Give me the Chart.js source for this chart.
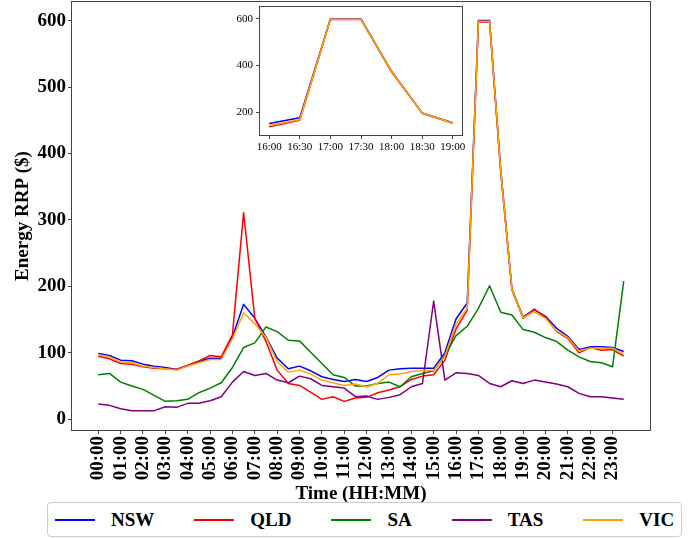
<!DOCTYPE html>
<html>
<head>
<meta charset="utf-8">
<script src="https://cdn.jsdelivr.net/npm/chart.js@4.4.1/dist/chart.umd.min.js"></script>
<style>
  body { margin: 0; background: #fff; }
  #wrap { position: relative; width: 691px; height: 538px; background: #fff; }
  #mainChart { position: absolute; left: 0; top: 0; }
  #insetChart { position: absolute; left: 225px; top: 0; }
  #legend {
    position: absolute; left: 47px; top: 502px; width: 635px; height: 35px;
    box-sizing: border-box; border: 1px solid #cccccc; border-radius: 4px;
    background: #fff; display: flex; align-items: center; padding-left: 7px;
    font: bold 19px "Liberation Serif", "Times New Roman", serif; color: #000;
  }
  .item { display: flex; align-items: center; margin-right: 40px; }
  .item:last-child { margin-right: 0; }
  .swatch { display: inline-block; width: 40px; height: 2px; margin-right: 16px; }
</style>
</head>
<body>
<div id="wrap">
  <canvas id="mainChart" width="691" height="505"></canvas>
  <canvas id="insetChart" width="245" height="160"></canvas>
  <div id="legend"></div>
</div>
<script>
// Half-hourly time slots
const times = [
  "00:00","00:30","01:00","01:30","02:00","02:30","03:00","03:30",
  "04:00","04:30","05:00","05:30","06:00","06:30","07:00","07:30",
  "08:00","08:30","09:00","09:30","10:00","10:30","11:00","11:30",
  "12:00","12:30","13:00","13:30","14:00","14:30","15:00","15:30",
  "16:00","16:30","17:00","17:30","18:00","18:30","19:00","19:30",
  "20:00","20:30","21:00","21:30","22:00","22:30","23:00","23:30"
];

// Energy RRP ($) per region
const nsw = [99, 96, 89, 88, 83, 80, 78, 75, 81, 87, 92, 92, 124, 173, 152, 124,
             92, 76, 80, 73, 64, 60, 57, 60, 57, 63, 74, 76, 77, 77, 77, 100,
             151, 175, 600, 600, 375, 196, 154, 165, 155, 137, 125, 105, 109, 109, 108, 102];
const qld = [95, 91, 84, 83, 79, 77, 76, 75, 81, 88, 96, 94, 127, 311, 152, 117,
             74, 54, 51, 41, 30, 34, 27, 32, 33, 40, 44, 49, 60, 65, 67, 89,
             136, 164, 598, 598, 372, 195, 152, 166, 153, 132, 122, 100, 108, 104, 105, 95];
const sa  = [67, 69, 56, 50, 45, 36, 27, 28, 30, 40, 47, 55, 78, 108, 115, 139,
             132, 119, 118, 101, 84, 67, 63, 50, 50, 54, 56, 49, 64, 69, 73, 96,
             126, 140, 167, 201, 161, 157, 135, 131, 123, 117, 104, 94, 87, 85, 79, 208];
const tas = [23, 21, 16, 13, 13, 13, 19, 18, 24, 24, 28, 34, 56, 72, 66, 69,
             59, 55, 65, 61, 51, 49, 47, 34, 35, 30, 33, 37, 49, 54, 178, 59,
             70, 69, 66, 54, 49, 58, 54, 59, 56, 53, 49, 39, 34, 34, 32, 30];
const vic = [97, 94, 86, 85, 80, 78, 76, 74, 80, 85, 90, 90, 121, 160, 144, 123,
             87, 71, 74, 68, 59, 55, 51, 53, 49, 54, 67, 68, 72, 73, 74, 95,
             143, 167, 599, 599, 374, 196, 153, 162, 152, 133, 123, 103, 107, 107, 107, 98];

const regions = ["NSW", "QLD", "SA", "TAS", "VIC"];
const colors = ["#0000ff", "#ff0000", "#008000", "#800080", "#ffa500"];
const series = [nsw, qld, sa, tas, vic];

const yTicks = [0, 100, 200, 300, 400, 500, 600];
const insetTimes = ["16:00", "16:30", "17:00", "17:30", "18:00", "18:30", "19:00"];
const insetRegions = ["NSW", "QLD", "VIC"];
const insetYTicks = [200, 400, 600];

const serif = "'Liberation Serif', 'Times New Roman', serif";
const hourIdx = times.map((t, i) => i).filter(i => times[i].endsWith(":00"));

// Box around the plot area
const framePlugin = {
    id: "frame",
    afterDraw(chart) {
        const { ctx, chartArea: a } = chart;
        ctx.save();
        ctx.strokeStyle = "#444";
        ctx.lineWidth = 1;
        ctx.strokeRect(a.left - 0.5, a.top - 0.5, a.right - a.left + 1, a.bottom - a.top + 1);
        ctx.restore();
    }
};

function makeDatasets(names, offset, count) {
    return names.map(name => {
        const k = regions.indexOf(name);
        const vals = series[k].slice(offset, offset + count);
        return {
            label: name,
            data: vals.map((v, i) => ({ x: i, y: v })),
            borderColor: colors[k],
            backgroundColor: colors[k],
            borderWidth: 1.5,
            pointRadius: 0,
            tension: 0,
            borderJoinStyle: "round",
            order: regions.length - k   // later regions drawn on top
        };
    });
}

// no extra room for half-labels at the axis ends
function fixPad(s) {
    s.paddingTop = 0;
    s.paddingBottom = 0;
    s.paddingLeft = 0;
    s.paddingRight = 0;
}

const tickGrid = { display: true, drawOnChartArea: false, drawTicks: true, tickLength: 4, color: "#444" };

const mainChart = new Chart(document.getElementById("mainChart"), {
    type: "line",
    data: { datasets: makeDatasets(regions, 0, times.length) },
    plugins: [framePlugin],
    options: {
        responsive: false,
        animation: false,
        devicePixelRatio: 1,
        layout: { padding: { left: 12, right: 41, top: 2, bottom: 0 } },
        plugins: { legend: { display: false }, tooltip: { enabled: false } },
        scales: {
            x: {
                type: "linear",
                min: -2.35,
                max: times.length - 1 + 2.35,
                grid: tickGrid,
                border: { display: false },
                afterBuildTicks: s => { s.ticks = hourIdx.map(v => ({ value: v })); },
                afterFit: s => { s.height = 75; fixPad(s); },
                ticks: {
                    autoSkip: false,
                    minRotation: 90,
                    maxRotation: 90,
                    padding: 2,
                    color: "#000",
                    font: { family: serif, size: 19, weight: "bold" },
                    callback: v => times[v]
                },
                title: {
                    display: true,
                    text: "Time (HH:MM)",
                    color: "#000",
                    padding: { top: 0, bottom: 0 },
                    font: { family: serif, size: 19, weight: "bold" }
                }
            },
            y: {
                min: -16.1,
                max: 628,
                grid: tickGrid,
                border: { display: false },
                afterBuildTicks: s => { s.ticks = yTicks.map(v => ({ value: v })); },
                afterFit: s => { s.width = 60; fixPad(s); },
                ticks: {
                    padding: 2,
                    color: "#000",
                    font: { family: serif, size: 19, weight: "bold" }
                },
                title: {
                    display: true,
                    text: "Energy RRP ($)",
                    color: "#000",
                    padding: { top: 0, bottom: 0 },
                    font: { family: serif, size: 19, weight: "bold" }
                }
            }
        }
    }
});

// Zoomed view of the 16:00 - 19:00 spike
const insetStart = times.indexOf(insetTimes[0]);
new Chart(document.getElementById("insetChart"), {
    type: "line",
    data: { datasets: makeDatasets(insetRegions, insetStart, insetTimes.length) },
    plugins: [framePlugin],
    options: {
        responsive: false,
        animation: false,
        devicePixelRatio: 1,
        layout: { padding: { left: 0, right: 8, top: 7, bottom: 0 } },
        plugins: { legend: { display: false }, tooltip: { enabled: false } },
        scales: {
            x: {
                type: "linear",
                min: -0.3,
                max: insetTimes.length - 1 + 0.3,
                grid: tickGrid,
                border: { display: false },
                afterBuildTicks: s => { s.ticks = insetTimes.map((t, i) => ({ value: i })); },
                afterFit: s => { s.height = 25; fixPad(s); },
                ticks: {
                    autoSkip: false,
                    maxRotation: 0,
                    padding: 2,
                    color: "#000",
                    font: { family: serif, size: 11 },
                    callback: v => insetTimes[v]
                }
            },
            y: {
                min: 101.1,
                max: 651.6,
                grid: tickGrid,
                border: { display: false },
                afterBuildTicks: s => { s.ticks = insetYTicks.map(v => ({ value: v })); },
                afterFit: s => { s.width = 35; fixPad(s); },
                ticks: {
                    padding: 3,
                    color: "#000",
                    font: { family: serif, size: 11 }
                }
            }
        }
    }
});

// HTML legend built from the main chart's datasets
const legendEl = document.getElementById("legend");
regions.forEach((name, k) => {
    const item = document.createElement("div");
    item.className = "item";
    const swatch = document.createElement("span");
    swatch.className = "swatch";
    swatch.style.backgroundColor = colors[k];
    const label = document.createElement("span");
    label.textContent = name;
    item.appendChild(swatch);
    item.appendChild(label);
    legendEl.appendChild(item);
});
</script>
</body>
</html>
